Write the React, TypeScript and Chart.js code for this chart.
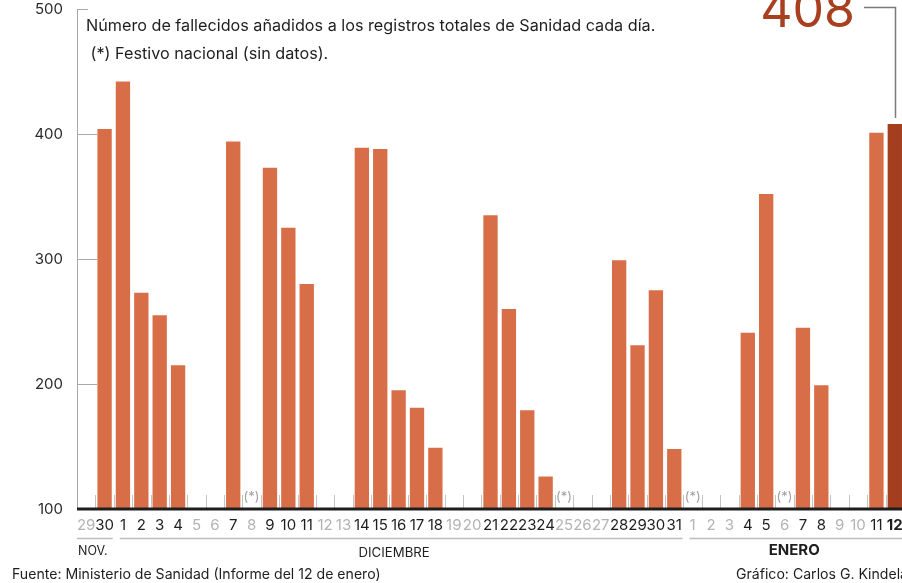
import React, { useEffect, useRef } from "react";
import { Chart, registerables } from "chart.js";

Chart.register(...registerables);

const FONT = "Inter, 'Open Sans', sans-serif";

const DAY_LABELS = [
  "29", "30",
  "1", "2", "3", "4", "5", "6", "7", "8", "9", "10", "11", "12", "13", "14", "15", "16", "17", "18", "19", "20",
  "21", "22", "23", "24", "25", "26", "27", "28", "29", "30", "31",
  "1", "2", "3", "4", "5", "6", "7", "8", "9", "10", "11", "12",
];

const DEATHS: (number | null)[] = [
  null, 404,
  442, 273, 255, 215, null, null, 394, null, 373, 325, 280, null, null, 389, 388, 195, 181, 149, null, null,
  335, 260, 179, 126, null, null, null, 299, 231, 275, 148,
  null, null, null, 241, 352, null, 245, 199, null, null, 401, 408,
];

const MONTH_NAMES = ["NOV.", "DICIEMBRE", "ENERO"];
const MONTH_DAY_COUNTS = [2, 31, 12];

// category indices of national holidays (8 dic, 25 dic, 1 ene, 6 ene)
const HOLIDAY_INDICES = [9, 26, 33, 38];

const Y_TICKS = [100, 200, 300, 400, 500];

const TITLE_LINES = [
  "Número de fallecidos añadidos a los registros totales de Sanidad cada día.",
  " (*) Festivo nacional (sin datos).",
];
const SOURCE = "Fuente: Ministerio de Sanidad (Informe del 12 de enero)";
const CREDIT = "Gráfico: Carlos G. Kindelán";

const BAR_COLOR = "#d86e48";
const LAST_COLOR = "#a33e1f";

const overlay = {
  id: "overlay",
  afterDraw(chart: any) {
    const ctx = chart.ctx;
    const x = chart.scales.x;
    const y = chart.scales.y;
    const area = chart.chartArea;
    const n = DAY_LABELS.length;
    const w = (area.right - area.left) / n;
    ctx.save();

    // short y grid marks
    ctx.strokeStyle = "#a8a8a8";
    ctx.lineWidth = 1;
    Y_TICKS.forEach((v) => {
      if (v === 100) return;
      const py = Math.round(y.getPixelForValue(v)) + 0.5;
      ctx.beginPath();
      ctx.moveTo(area.left, py);
      ctx.lineTo(area.left + (v === 500 ? 11 : 20), py);
      ctx.stroke();
    });

    // category boundary ticks
    ctx.strokeStyle = "#c4c4c4";
    for (let i = 1; i < n; i++) {
      const bx = Math.round(area.left + i * w) + 0.5;
      ctx.beginPath();
      ctx.moveTo(bx, area.bottom - 14);
      ctx.lineTo(bx, area.bottom);
      ctx.stroke();
    }

    // holiday markers
    ctx.fillStyle = "#a0a0a0";
    ctx.font = `13px ${FONT}`;
    ctx.textAlign = "center";
    ctx.textBaseline = "middle";
    HOLIDAY_INDICES.forEach((i) => {
      const cx = x.getPixelForValue(i);
      ctx.fillText("(*)", cx, area.bottom - 12);
    });

    // baseline
    ctx.strokeStyle = "#1e1e1e";
    ctx.lineWidth = 3;
    ctx.beginPath();
    ctx.moveTo(area.left, area.bottom);
    ctx.lineTo(area.right, area.bottom);
    ctx.stroke();

    // month groups
    let start = 0;
    MONTH_DAY_COUNTS.forEach((count, m) => {
      const x0 = area.left + start * w + (m === 0 ? 0 : 6);
      const x1 = area.left + (start + count) * w - 1;
      ctx.strokeStyle = "#bdbdbd";
      ctx.lineWidth = 1.5;
      ctx.beginPath();
      ctx.moveTo(x0, 538.5);
      ctx.lineTo(x1, 538.5);
      ctx.stroke();
      ctx.fillStyle = "#1e1e1e";
      ctx.textBaseline = "middle";
      if (m === 0) {
        ctx.font = `12.5px ${FONT}`;
        ctx.textAlign = "left";
        ctx.fillText(MONTH_NAMES[m], area.left + 1, 551);
      } else if (m === 1) {
        ctx.font = `13.2px ${FONT}`;
        ctx.textAlign = "center";
        ctx.fillText(MONTH_NAMES[m], (x0 + x1) / 2 - 7, 553);
      } else {
        ctx.font = `bold 15px ${FONT}`;
        ctx.textAlign = "center";
        ctx.fillText(MONTH_NAMES[m], (x0 + x1) / 2 - 2, 550);
      }
      start += count;
    });

    // title lines
    ctx.fillStyle = "#1e1e1e";
    ctx.font = `16.2px ${FONT}`;
    ctx.textAlign = "left";
    ctx.textBaseline = "alphabetic";
    ctx.fillText(TITLE_LINES[0], 86, 31);
    ctx.fillText(TITLE_LINES[1], 86, 59);

    // highlighted last value
    const last = DEATHS.length - 1;
    const lastVal = DEATHS[last] as number;
    const lx = Math.round(x.getPixelForValue(last)) + 0.5;
    const ly = y.getPixelForValue(lastVal);
    ctx.fillStyle = "#a8401f";
    ctx.font = `50px ${FONT}`;
    ctx.textAlign = "right";
    ctx.fillText(String(lastVal), 855, 27);
    ctx.strokeStyle = "#7a7a7a";
    ctx.lineWidth = 1.5;
    ctx.beginPath();
    ctx.moveTo(864, 7.5);
    ctx.lineTo(lx, 7.5);
    ctx.lineTo(lx, ly - 6);
    ctx.stroke();

    // footer
    ctx.fillStyle = "#1e1e1e";
    ctx.font = `14.1px ${FONT}`;
    ctx.textAlign = "left";
    ctx.textBaseline = "middle";
    ctx.fillText(SOURCE, 12, 575);
    ctx.fillText(CREDIT, 736, 575);

    ctx.restore();
  },
};

export default function App() {
  const ref = useRef<HTMLCanvasElement | null>(null);

  useEffect(() => {
    if (!ref.current) return;
    const last = DEATHS.length - 1;
    const chart = new Chart(ref.current, {
      type: "bar",
      data: {
        labels: DAY_LABELS,
        datasets: [
          {
            data: DEATHS,
            backgroundColor: DEATHS.map((_, i) => (i === last ? LAST_COLOR : BAR_COLOR)),
            barPercentage: 0.78,
            categoryPercentage: 1,
            borderWidth: 0,
          },
        ],
      },
      options: {
        responsive: false,
        animation: false,
        events: [],
        layout: { padding: { top: 9, right: 6, left: 0, bottom: 0 } },
        plugins: { legend: { display: false }, tooltip: { enabled: false } },
        scales: {
          x: {
            grid: { display: false, drawTicks: false },
            border: { display: false },
            afterFit: (s: any) => {
              s.height = 74;
              s.paddingLeft = 0;
              s.paddingRight = 0;
            },
            ticks: {
              autoSkip: false,
              maxRotation: 0,
              minRotation: 0,
              padding: 7,
              color: (c: any) => (DEATHS[c.index] == null ? "#b3b3b3" : "#1e1e1e"),
              font: (c: any) => ({
                family: FONT,
                size: 15,
                weight: c.index === last ? "bold" : "normal",
              }),
            },
          },
          y: {
            min: 100,
            max: 500,
            grid: { display: false, drawTicks: false },
            border: { display: true, color: "#a8a8a8", width: 1 },
            afterFit: (s: any) => {
              s.width = 77;
              s.paddingTop = 0;
              s.paddingBottom = 0;
            },
            ticks: {
              stepSize: 100,
              padding: 14,
              color: "#2a2a2a",
              font: { family: FONT, size: 15 },
            },
          },
        },
      },
      plugins: [overlay],
    });
    return () => chart.destroy();
  }, []);

  return (
    <div style={{ position: "absolute", left: 0, top: 0, width: 902, height: 583, overflow: "hidden", background: "#fff" }}>
      <canvas ref={ref} width={910} height={583} style={{ display: "block" }} />
    </div>
  );
}
